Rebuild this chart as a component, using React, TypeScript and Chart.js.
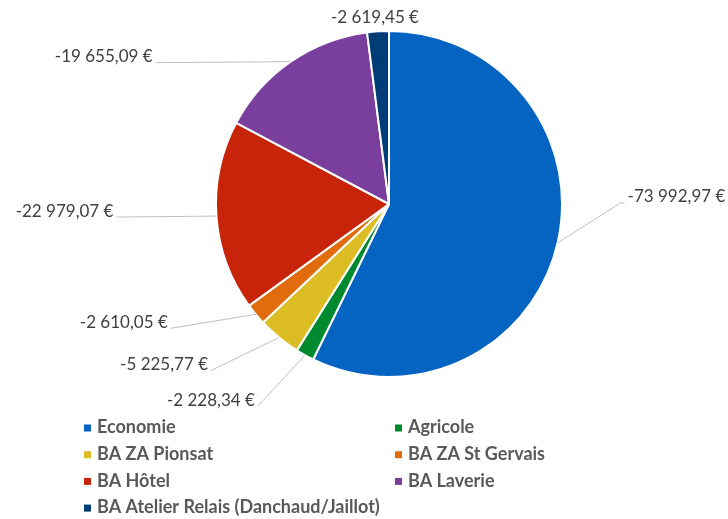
import React, { useEffect, useRef } from "react";
import { Chart, registerables } from "chart.js";

Chart.register(...registerables);

const categories = [
  "Economie",
  "Agricole",
  "BA ZA Pionsat",
  "BA ZA St Gervais",
  "BA Hôtel",
  "BA Laverie",
  "BA Atelier Relais (Danchaud/Jaillot)",
];
const values = [-73992.97, -2228.34, -5225.77, -2610.05, -22979.07, -19655.09, -2619.45];
const colors = ["#0563C1", "#008A30", "#DCBD23", "#E06C0D", "#C8240A", "#7A3F9C", "#003C75"];
// label placement relative to the slice's outer mid-point: [dx, dy, align, withLine]
const labelOffsets: [number, number, string, boolean][] = [
  [70, -46, "left", true],
  [-50, 45, "right", true],
  [-71, 27, "right", true],
  [-88, 8, "right", true],
  [-103, -5, "right", true],
  [-138, -5, "right", true],
  [-3, -14, "center", false],
];

function fmt(v: number): string {
  const neg = v < 0;
  const [ip, dp] = Math.abs(v).toFixed(2).split(".");
  const withSep = ip.replace(/\B(?=(\d{3})+(?!\d))/g, " ");
  return (neg ? "-" : "") + withSep + "," + dp + " €";
}

const labelPlugin = {
  id: "outLabels",
  afterDraw(chart: any) {
    const ctx = chart.ctx;
    const meta = chart.getDatasetMeta(0);
    ctx.save();
    ctx.font = "17px Lato";
    ctx.textBaseline = "middle";
    meta.data.forEach((arc: any, i: number) => {
      const p = arc.getProps(["x", "y", "startAngle", "endAngle", "outerRadius"], true);
      const mid = (p.startAngle + p.endAngle) / 2;
      const ax = p.x + Math.cos(mid) * p.outerRadius;
      const ay = p.y + Math.sin(mid) * p.outerRadius;
      const [dx, dy, align, withLine] = labelOffsets[i];
      const tx = ax + dx;
      const ty = ay + dy;
      const text = fmt(values[i]);
      ctx.fillStyle = "#404040";
      ctx.textAlign = align;
      ctx.fillText(text, tx, ty);
      if (withLine) {
        ctx.strokeStyle = "#BFBFBF";
        ctx.lineWidth = 1;
        ctx.beginPath();
        const ly = ty + 6;
        if (align === "left") {
          ctx.moveTo(ax, ay);
          ctx.lineTo(tx - 7, ly);
          ctx.lineTo(tx - 3, ly);
        } else {
          ctx.moveTo(ax, ay);
          ctx.lineTo(tx + 3, ly);
        }
        ctx.stroke();
      }
    });
    // legend
    const colX = [84, 395];
    const rowY0 = 428;
    const rowH = 26.7;
    ctx.font = "bold 18px Lato";
    ctx.textAlign = "left";
    categories.forEach((c, i) => {
      const col = i % 2;
      const row = Math.floor(i / 2);
      const mx = colX[col];
      const my = rowY0 + row * rowH;
      ctx.fillStyle = colors[i];
      ctx.fillRect(mx, my - 3.5, 7, 7);
      ctx.fillStyle = "#595959";
      ctx.fillText(c, mx + 13, my - 0.5);
    });
    ctx.restore();
  },
};

export default function App() {
  const ref = useRef<HTMLCanvasElement>(null);
  useEffect(() => {
    if (!ref.current) return;
    const chart = new Chart(ref.current, {
      type: "pie",
      data: {
        labels: categories,
        datasets: [
          {
            data: values.map((v) => Math.abs(v)),
            backgroundColor: colors,
            borderColor: "#FFFFFF",
            borderWidth: 2,
          },
        ],
      },
      options: {
        responsive: false,
        animation: false,
        layout: { padding: { left: 215, top: 30, right: 165, bottom: 141 } },
        plugins: {
          legend: { display: false },
          tooltip: { enabled: false },
        },
      },
      plugins: [labelPlugin],
    });
    return () => chart.destroy();
  }, []);
  return (
    <div style={{ position: "fixed", left: 0, top: 0, width: 728, height: 519, background: "#fff" }}>
      <canvas ref={ref} width={728} height={519} style={{ width: 728, height: 519 }} />
    </div>
  );
}
